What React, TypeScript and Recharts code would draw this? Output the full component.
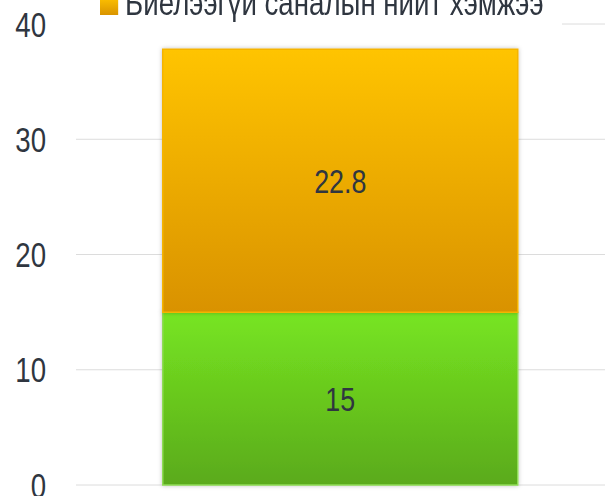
import { BarChart, Bar, XAxis, YAxis, CartesianGrid, Legend, LabelList } from "recharts";

const categories = [""];
const fulfilled = [15];
const unfulfilled = [22.8];
const yTicks = [0, 10, 20, 30, 40];
const legendLabel = "Биелээгүй саналын нийт хэмжээ";

const data = categories.map((name, i) => ({
  name,
  fulfilled: fulfilled[i],
  unfulfilled: unfulfilled[i],
}));

const FONT = "'Liberation Sans', Arial, sans-serif";
const TEXT = "#2f3640";
const SQUEEZE = 0.79;

// the reference uses a tall, narrow face: squeeze Liberation Sans horizontally
const NarrowTick = (props: any) => {
  const { x, y, payload } = props;
  return (
    <g transform={`translate(${x},${y})`}>
      <text
        transform={`scale(${SQUEEZE},1)`}
        textAnchor="end"
        dy="0.36em"
        fontFamily={FONT}
        fontSize={35}
        fill={TEXT}
      >
        {payload.value}
      </text>
    </g>
  );
};

const NarrowLabel = (props: any) => {
  const { x, y, width, height, value } = props;
  return (
    <g transform={`translate(${x + width / 2},${y + height / 2})`}>
      <text
        transform={`scale(${SQUEEZE},1)`}
        textAnchor="middle"
        dy="0.36em"
        fontFamily={FONT}
        fontSize={34}
        fill={TEXT}
      >
        {value}
      </text>
    </g>
  );
};

const LegendBox = () => (
  <div style={{ position: "relative", width: "100%", height: "100%" }}>
    <div
      style={{
        position: "absolute",
        left: 30,
        top: 0,
        display: "flex",
        alignItems: "center",
        whiteSpace: "nowrap",
        transform: `scaleX(${SQUEEZE})`,
        transformOrigin: "0 0",
        fontFamily: FONT,
        fontSize: 35,
        lineHeight: "35px",
        color: TEXT,
      }}
    >
      <span
        style={{
          display: "inline-block",
          width: 18 / SQUEEZE,
          height: 18,
          marginTop: 6,
          marginRight: 9,
          background: "linear-gradient(#ffc300, #d99400)",
        }}
      />
      <span>{legendLabel}</span>
    </div>
  </div>
);

const App = () => {
  return (
    <div style={{ position: "absolute", left: 0, top: 0 }}>
      <BarChart
        width={610}
        height={496}
        data={data}
        margin={{ top: 24, right: 5, bottom: 11, left: 0 }}
        barCategoryGap="16.4%"
      >
        <defs>
          <linearGradient id="gOrange" x1="0" y1="0" x2="0" y2="1">
            <stop offset="0%" stopColor="#ffc400" />
            <stop offset="100%" stopColor="#d99200" />
          </linearGradient>
          <linearGradient id="gGreen" x1="0" y1="0" x2="0" y2="1">
            <stop offset="0%" stopColor="#77e522" />
            <stop offset="100%" stopColor="#5aaa1a" />
          </linearGradient>
          <filter id="shadow" x="-5%" y="-5%" width="110%" height="110%">
            <feDropShadow dx="0" dy="0" stdDeviation="2" floodColor="#000" floodOpacity="0.25" />
          </filter>
        </defs>
        <CartesianGrid vertical={false} stroke="#dcdcdc" />
        <XAxis dataKey="name" hide />
        <YAxis
          width={76}
          domain={[0, 40]}
          ticks={yTicks}
          interval={0}
          axisLine={false}
          tickLine={false}
          tickMargin={24}
          tick={<NarrowTick />}
        />
        <Legend
          layout="vertical"
          align="center"
          verticalAlign="middle"
          wrapperStyle={{ top: -15, left: 70, width: 492, height: 41, background: "#fff" }}
          content={() => <LegendBox />}
        />
        <Bar
          dataKey="fulfilled"
          stackId="a"
          fill="url(#gGreen)"
          stroke="#8fdc55"
          strokeWidth={1.5}
          filter="url(#shadow)"
          isAnimationActive={false}
        >
          <LabelList dataKey="fulfilled" content={<NarrowLabel />} />
        </Bar>
        <Bar
          dataKey="unfulfilled"
          stackId="a"
          fill="url(#gOrange)"
          stroke="#f5b400"
          strokeWidth={1.5}
          filter="url(#shadow)"
          isAnimationActive={false}
        >
          <LabelList dataKey="unfulfilled" content={<NarrowLabel />} />
        </Bar>
      </BarChart>
    </div>
  );
};

export default App;
